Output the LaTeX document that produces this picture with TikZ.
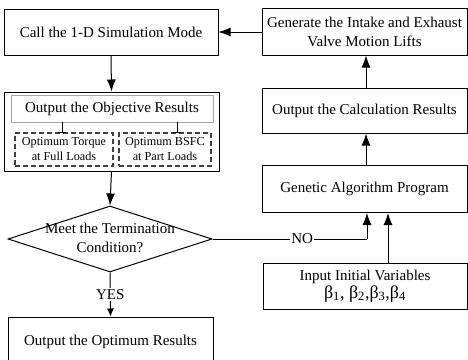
\documentclass[tikz,border=0pt]{standalone}
\usepackage{fontspec}
\setmainfont{Liberation Serif}
\usetikzlibrary{shapes.geometric,arrows.meta}
\begin{document}
\begin{tikzpicture}[x=1pt,y=-1pt,
  every node/.style={font=\fontsize{15}{19}\selectfont, align=center, inner sep=0pt},
  box/.style={draw, line width=1pt, rectangle},
  dbox/.style={draw=black!75, line width=1.1pt, dash pattern=on 5pt off 3pt, rectangle, font=\fontsize{12.2}{15}\selectfont},
  gbox/.style={draw=black!35, line width=1pt, rectangle},
  dia/.style={draw, line width=1pt, diamond, minimum width=204pt, minimum height=66pt},
  arr/.style={line width=1pt, -{Latex[length=12pt,width=9pt]}},
  sarr/.style={line width=1pt, -{Latex[length=8pt,width=7pt]}},
  ln/.style={line width=1pt}]
\clip (0,0) rectangle (468,359);
\fill[white] (0,0) rectangle (468,359);
\node[box, minimum width=214pt, minimum height=46pt] (call) at (111,32.5) {Call the 1-D Simulation Mode};
\node[box, minimum width=205pt, minimum height=47pt] (gen) at (364.5,31.5) {Generate the Intake and Exhaust\\Valve Motion Lifts};
\node[box, minimum width=205pt, minimum height=45pt] (calc) at (364.5,110.5) {Output the Calculation Results};
\node[box, minimum width=205pt, minimum height=47pt] (ga) at (364.5,189) {Genetic Algorithm Program};
\node[box, minimum width=204pt, minimum height=46pt] (inp) at (365,286) {Input Initial Variables\\[-1pt]{\fontsize{18}{19}\selectfont β\textsubscript{1}, β\textsubscript{2},β\textsubscript{3},β\textsubscript{4}}};
\node[box, minimum width=215pt, minimum height=79pt] (obj) at (111.5,131.5) {};
\node[gbox, minimum width=202pt, minimum height=27pt] (gray) at (112,108.5) {Output the Objective Results};
\node[dbox, minimum width=98pt, minimum height=33pt] (d1) at (64,149.5) {Optimum Torque\\at Full Loads};
\node[dbox, minimum width=92pt, minimum height=33pt] (d2) at (165,149.5) {Optimum BSFC\\at Part Loads};
\node[dia] (cond) at (110,239) {};
\node at ([yshift=1pt]cond.center) {Meet the Termination\\Condition?};
\node[box, minimum width=205pt, minimum height=48pt] (out) at (110.5,341) {};
\node at (110.5,342) {Output the Optimum Results};
\coordinate (t1) at (62,122);
\coordinate (t2) at (177,122);
\draw[ln] (t1) -- (t1 |- d1.north);
\draw[ln] ([xshift=-4pt]t1 |- d1.north) -- ([xshift=4pt]t1 |- d1.north);
\draw[ln] (t2) -- (t2 |- d2.north);
\draw[ln] ([xshift=-4pt]t2 |- d2.north) -- ([xshift=4pt]t2 |- d2.north);
\draw[arr] (gen.west |- 0,32) -- (call.east |- 0,32);
\coordinate (a1) at (366,0);
\draw[arr] (a1 |- calc.north) -- (a1 |- gen.south);
\draw[arr] (a1 |- ga.north) -- (a1 |- calc.south);
\draw[arr] (call.south) -- (obj.north);
\draw[arr] (obj.south) -- (cond.north);
\coordinate (a2) at (367,239);
\draw[ln] (cond.east) -- node[fill=white, inner sep=1pt, pos=0.58] (no) {NO} (a2);
\draw[arr] (a2) -- (a2 |- ga.south);
\coordinate (a3) at (388,0);
\draw[arr] (a3 |- inp.north) -- (a3 |- ga.south);
\draw[sarr] (cond.south) -- node[fill=white, inner sep=1pt, pos=0.5] (yes) {YES} (out.north);
\end{tikzpicture}
\end{document}
